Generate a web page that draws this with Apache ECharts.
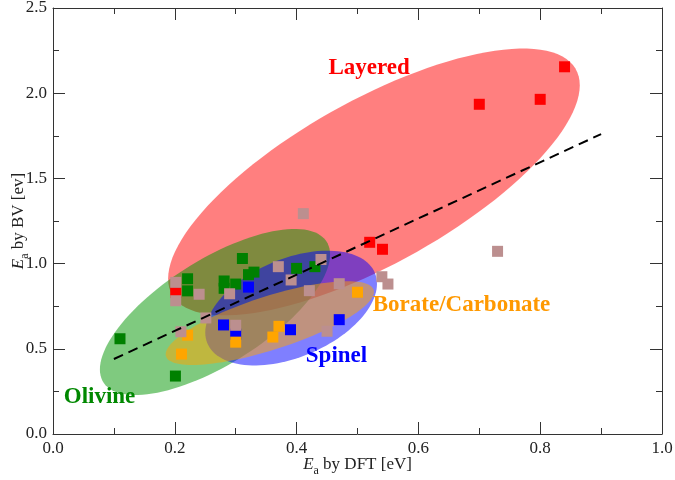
<!DOCTYPE html>
<html>
<head>
<meta charset="utf-8">
<script src="https://cdn.jsdelivr.net/npm/echarts@6/dist/echarts.min.js"></script>
<style>html,body{margin:0;padding:0;background:#fff}#c{width:675px;height:480px}</style>
</head>
<body>
<div id="c"></div>
<script>
// Points [E_a DFT, E_a BV]
const layered = [[0.84,2.155],[0.70,1.935],[0.80,1.964],[0.52,1.125],[0.541,1.084],[0.2015,0.83]];
const olivine = [[0.311,1.03],[0.221,0.911],[0.221,0.84],[0.281,0.898],[0.281,0.855],[0.30,0.88],[0.321,0.935],[0.33,0.95],[0.40,0.972],[0.43,0.982],[0.11,0.559],[0.201,0.34]];
const spinel = [[0.321,0.862],[0.28,0.64],[0.30,0.586],[0.39,0.612],[0.47,0.671]];
const borate = [[0.221,0.58],[0.211,0.469],[0.30,0.539],[0.371,0.632],[0.361,0.569],[0.50,0.832]];
const others = [[0.2015,0.89],[0.2015,0.782],[0.24,0.82],[0.29,0.823],[0.251,0.681],[0.21,0.60],[0.30,0.638],[0.37,0.982],[0.391,0.904],[0.411,1.293],[0.44,1.024],[0.421,0.841],[0.47,0.882],[0.45,0.603],[0.54,0.923],[0.55,0.88],[0.73,1.072]];
// Fit line endpoints
const fitLine = [[0.10,0.44],[0.90,1.76]];
// Ellipses: [centerX, centerY, halfWidthX, yShiftAtHalfWidth, verticalHalfChord] (data units)
const ellLayered = [0.527, 1.479, 0.338, 0.567, 0.540];
const ellOlivine = [0.266, 0.716, 0.189, 0.337, 0.352];
const ellSpinel  = [0.391, 0.739, 0.141, 0.143, 0.305];
const ellBorate  = [0.356, 0.651, 0.171, 0.183, 0.164];
// Group labels
const labelNames = ['Layered','Olivine','Spinel','Borate/Carbonate'];
const labelPos = [[0.519,2.15],[0.0764,0.215],[0.4655,0.455],[0.6708,0.755]];
const labelColors = ['#ff0000','#008800','#0000ff','#ff9900'];
// Ticks
const xTicks = {min:0, max:1, interval:0.2};
const yTicks = {min:0, max:2.5, interval:0.5};

const FONT = 'Liberation Serif';
const chart = echarts.init(document.getElementById('c'));

function ellipseSeries(p, fill, z){
  return {
    type:'custom', z:z, silent:true,
    data:[p],
    encode:{x:0, y:1},
    renderItem:function(params, api){
      const cx=api.value(0), cy=api.value(1), ax=api.value(2), ay=api.value(3), h=api.value(4);
      const pts=[];
      for(let i=0;i<120;i++){
        const t=2*Math.PI*i/120;
        pts.push(api.coord([cx+ax*Math.cos(t), cy+ay*Math.cos(t)+h*Math.sin(t)]));
      }
      return {type:'polygon', shape:{points:pts}, style:{fill:fill}};
    }
  };
}
function pointSeries(d, color, z){
  return {type:'scatter', data:d, symbol:'rect', symbolSize:11, z:z,
    itemStyle:{color:color, opacity:1}};
}

const axisCommon = {
  axisLine:{show:true, onZero:false, lineStyle:{color:'#333', width:1}},
  axisTick:{show:true, inside:true, length:12, lineStyle:{color:'#333'}},
  minorTick:{show:true, splitNumber:2, length:6, lineStyle:{color:'#333'}},
  splitLine:{show:false}
};
const nameRich = {
  i:{fontFamily:FONT, fontSize:17, fontStyle:'italic', color:'#222', verticalAlign:'bottom', padding:[0,0,4,0]},
  s:{fontFamily:FONT, fontSize:12, color:'#222', verticalAlign:'bottom'},
  n:{fontFamily:FONT, fontSize:17, color:'#222', verticalAlign:'bottom', padding:[0,0,4,0]}
};

chart.setOption({
  animation:false,
  grid:{left:53, right:13, top:8, bottom:46, containLabel:false, outerBoundsMode:'none'},
  xAxis:[
    Object.assign({type:'value', position:'bottom', min:xTicks.min, max:xTicks.max, interval:xTicks.interval,
      axisLabel:{fontFamily:FONT, fontSize:17, color:'#222', margin:6, formatter:v=>v.toFixed(1)},
      name:'{i|E}{s|a}{n| by DFT [eV]}', nameLocation:'middle', nameGap:22, nameMoveOverlap:false,
      nameTextStyle:{rich:nameRich}}, axisCommon),
    Object.assign({type:'value', position:'top', min:xTicks.min, max:xTicks.max, interval:xTicks.interval,
      axisLabel:{show:false}}, axisCommon)
  ],
  yAxis:[
    Object.assign({type:'value', position:'left', min:yTicks.min, max:yTicks.max, interval:yTicks.interval,
      axisLabel:{fontFamily:FONT, fontSize:17, color:'#222', margin:6, formatter:v=>v.toFixed(1)},
      name:'{i|E}{s|a}{n| by BV [ev]}', nameLocation:'middle', nameGap:22, nameRotate:90, nameMoveOverlap:false,
      nameTextStyle:{rich:nameRich}}, axisCommon),
    Object.assign({type:'value', position:'right', min:yTicks.min, max:yTicks.max, interval:yTicks.interval,
      axisLabel:{show:false}}, axisCommon)
  ],
  series:[
    ellipseSeries(ellLayered, 'rgba(255,0,0,0.5)', 1),
    ellipseSeries(ellOlivine, 'rgba(0,150,0,0.5)', 2),
    ellipseSeries(ellSpinel, 'rgba(0,0,255,0.5)', 3),
    ellipseSeries(ellBorate, 'rgba(255,165,0,0.5)', 4),
    pointSeries(layered, '#ff0000', 5),
    pointSeries(olivine, '#008000', 6),
    pointSeries(spinel, '#0000ff', 7),
    pointSeries(borate, '#ffa500', 8),
    pointSeries(others, '#bc8f8f', 9),
    {type:'line', data:fitLine, symbol:'none', z:10, silent:true,
      lineStyle:{color:'#000', width:2, type:[10,6]}},
    {type:'scatter', z:11, symbolSize:0, silent:true, itemStyle:{opacity:1},
      data:labelNames.map((n,i)=>({value:labelPos[i], name:n,
        label:{show:true, position:'inside', formatter:'{b}', color:labelColors[i], opacity:1,
          fontFamily:FONT, fontWeight:'bold', fontSize:23}}))}
  ]
});
</script>
</body>
</html>
